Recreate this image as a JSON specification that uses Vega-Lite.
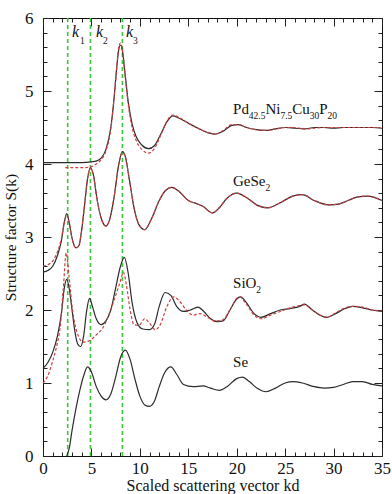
{
  "$schema": "https://vega.github.io/schema/vega-lite/v6.json",
  "width": 339,
  "height": 438,
  "autosize": "none",
  "padding": {"left": 43, "top": 18, "right": 10, "bottom": 38},
  "config": {
    "font": "Liberation Serif, Times New Roman, DejaVu Serif, serif",
    "text": {"font": "Liberation Serif, Times New Roman, DejaVu Serif, serif"},
    "axis": {"labelFont": "Liberation Serif, Times New Roman, DejaVu Serif, serif", "titleFont": "Liberation Serif, Times New Roman, DejaVu Serif, serif"},
    "view": {"stroke": "#111", "strokeWidth": 1}
  },
  "datasets": {
    "curves": [
      {"s":"Pd","t":"b","x":0,"y":4.02},{"s":"Pd","t":"b","x":1,"y":4.02},{"s":"Pd","t":"b","x":2,"y":4.02},{"s":"Pd","t":"b","x":3,"y":4.02},{"s":"Pd","t":"b","x":4,"y":4.02},{"s":"Pd","t":"b","x":5,"y":4.03},{"s":"Pd","t":"b","x":5.5,"y":4.04},{"s":"Pd","t":"b","x":6,"y":4.08},{"s":"Pd","t":"b","x":6.5,"y":4.2},{"s":"Pd","t":"b","x":7,"y":4.5},{"s":"Pd","t":"b","x":7.3,"y":4.85},{"s":"Pd","t":"b","x":7.6,"y":5.3},{"s":"Pd","t":"b","x":7.8,"y":5.55},{"s":"Pd","t":"b","x":8.0,"y":5.63},{"s":"Pd","t":"b","x":8.2,"y":5.55},{"s":"Pd","t":"b","x":8.5,"y":5.2},{"s":"Pd","t":"b","x":8.8,"y":4.85},{"s":"Pd","t":"b","x":9.2,"y":4.55},{"s":"Pd","t":"b","x":9.6,"y":4.38},{"s":"Pd","t":"b","x":10.2,"y":4.26},{"s":"Pd","t":"b","x":10.9,"y":4.21},{"s":"Pd","t":"b","x":11.5,"y":4.25},{"s":"Pd","t":"b","x":12.2,"y":4.42},{"s":"Pd","t":"b","x":12.8,"y":4.58},{"s":"Pd","t":"b","x":13.4,"y":4.66},{"s":"Pd","t":"b","x":14,"y":4.63},{"s":"Pd","t":"b","x":15,"y":4.56},{"s":"Pd","t":"b","x":16,"y":4.49},{"s":"Pd","t":"b","x":17,"y":4.43},{"s":"Pd","t":"b","x":17.8,"y":4.41},{"s":"Pd","t":"b","x":18.6,"y":4.45},{"s":"Pd","t":"b","x":19.5,"y":4.53},{"s":"Pd","t":"b","x":20.2,"y":4.54},{"s":"Pd","t":"b","x":21,"y":4.5},{"s":"Pd","t":"b","x":22,"y":4.47},{"s":"Pd","t":"b","x":23,"y":4.46},{"s":"Pd","t":"b","x":24,"y":4.48},{"s":"Pd","t":"b","x":25,"y":4.5},{"s":"Pd","t":"b","x":26,"y":4.49},{"s":"Pd","t":"b","x":27,"y":4.48},{"s":"Pd","t":"b","x":28,"y":4.5},{"s":"Pd","t":"b","x":29,"y":4.5},{"s":"Pd","t":"b","x":30,"y":4.49},{"s":"Pd","t":"b","x":31,"y":4.5},{"s":"Pd","t":"b","x":32,"y":4.5},{"s":"Pd","t":"b","x":33,"y":4.5},{"s":"Pd","t":"b","x":34,"y":4.5},{"s":"Pd","t":"b","x":35,"y":4.49},

      {"s":"Pd","t":"r","x":2.3,"y":3.95},{"s":"Pd","t":"r","x":3,"y":3.95},{"s":"Pd","t":"r","x":4,"y":3.95},{"s":"Pd","t":"r","x":4.9,"y":3.96},{"s":"Pd","t":"r","x":5.5,"y":4.0},{"s":"Pd","t":"r","x":6,"y":4.06},{"s":"Pd","t":"r","x":6.5,"y":4.18},{"s":"Pd","t":"r","x":7,"y":4.48},{"s":"Pd","t":"r","x":7.3,"y":4.85},{"s":"Pd","t":"r","x":7.6,"y":5.3},{"s":"Pd","t":"r","x":7.8,"y":5.58},{"s":"Pd","t":"r","x":8.0,"y":5.66},{"s":"Pd","t":"r","x":8.2,"y":5.56},{"s":"Pd","t":"r","x":8.5,"y":5.18},{"s":"Pd","t":"r","x":8.8,"y":4.82},{"s":"Pd","t":"r","x":9.2,"y":4.5},{"s":"Pd","t":"r","x":9.6,"y":4.33},{"s":"Pd","t":"r","x":10.2,"y":4.2},{"s":"Pd","t":"r","x":10.9,"y":4.15},{"s":"Pd","t":"r","x":11.5,"y":4.21},{"s":"Pd","t":"r","x":12.2,"y":4.41},{"s":"Pd","t":"r","x":12.8,"y":4.59},{"s":"Pd","t":"r","x":13.4,"y":4.67},{"s":"Pd","t":"r","x":14,"y":4.64},{"s":"Pd","t":"r","x":15,"y":4.56},{"s":"Pd","t":"r","x":16,"y":4.49},{"s":"Pd","t":"r","x":17,"y":4.43},{"s":"Pd","t":"r","x":17.8,"y":4.41},{"s":"Pd","t":"r","x":18.6,"y":4.46},{"s":"Pd","t":"r","x":19.5,"y":4.54},{"s":"Pd","t":"r","x":20.2,"y":4.54},{"s":"Pd","t":"r","x":21,"y":4.5},{"s":"Pd","t":"r","x":22,"y":4.47},{"s":"Pd","t":"r","x":23,"y":4.46},{"s":"Pd","t":"r","x":24,"y":4.48},{"s":"Pd","t":"r","x":25,"y":4.5},{"s":"Pd","t":"r","x":26,"y":4.5},{"s":"Pd","t":"r","x":27,"y":4.48},{"s":"Pd","t":"r","x":28,"y":4.49},{"s":"Pd","t":"r","x":29,"y":4.5},{"s":"Pd","t":"r","x":30,"y":4.5},{"s":"Pd","t":"r","x":31,"y":4.5},{"s":"Pd","t":"r","x":32,"y":4.5},{"s":"Pd","t":"r","x":33,"y":4.5},{"s":"Pd","t":"r","x":34,"y":4.5},{"s":"Pd","t":"r","x":35,"y":4.5},

      {"s":"Ge","t":"b","x":0,"y":2.52},{"s":"Ge","t":"b","x":0.5,"y":2.54},{"s":"Ge","t":"b","x":1,"y":2.6},{"s":"Ge","t":"b","x":1.5,"y":2.75},{"s":"Ge","t":"b","x":1.9,"y":2.95},{"s":"Ge","t":"b","x":2.2,"y":3.2},{"s":"Ge","t":"b","x":2.45,"y":3.32},{"s":"Ge","t":"b","x":2.7,"y":3.2},{"s":"Ge","t":"b","x":3.0,"y":2.98},{"s":"Ge","t":"b","x":3.4,"y":2.85},{"s":"Ge","t":"b","x":3.7,"y":2.88},{"s":"Ge","t":"b","x":4.0,"y":3.1},{"s":"Ge","t":"b","x":4.3,"y":3.45},{"s":"Ge","t":"b","x":4.6,"y":3.8},{"s":"Ge","t":"b","x":4.9,"y":3.95},{"s":"Ge","t":"b","x":5.2,"y":3.85},{"s":"Ge","t":"b","x":5.6,"y":3.5},{"s":"Ge","t":"b","x":6.0,"y":3.26},{"s":"Ge","t":"b","x":6.5,"y":3.15},{"s":"Ge","t":"b","x":7.0,"y":3.3},{"s":"Ge","t":"b","x":7.4,"y":3.6},{"s":"Ge","t":"b","x":7.8,"y":3.98},{"s":"Ge","t":"b","x":8.2,"y":4.17},{"s":"Ge","t":"b","x":8.5,"y":4.1},{"s":"Ge","t":"b","x":8.9,"y":3.8},{"s":"Ge","t":"b","x":9.4,"y":3.4},{"s":"Ge","t":"b","x":9.9,"y":3.17},{"s":"Ge","t":"b","x":10.5,"y":3.1},{"s":"Ge","t":"b","x":11.2,"y":3.25},{"s":"Ge","t":"b","x":12,"y":3.5},{"s":"Ge","t":"b","x":12.6,"y":3.63},{"s":"Ge","t":"b","x":13.3,"y":3.68},{"s":"Ge","t":"b","x":14,"y":3.63},{"s":"Ge","t":"b","x":15,"y":3.5},{"s":"Ge","t":"b","x":15.8,"y":3.46},{"s":"Ge","t":"b","x":16.5,"y":3.42},{"s":"Ge","t":"b","x":17.5,"y":3.33},{"s":"Ge","t":"b","x":18.2,"y":3.4},{"s":"Ge","t":"b","x":19,"y":3.53},{"s":"Ge","t":"b","x":20,"y":3.6},{"s":"Ge","t":"b","x":21,"y":3.54},{"s":"Ge","t":"b","x":22.2,"y":3.43},{"s":"Ge","t":"b","x":23.2,"y":3.4},{"s":"Ge","t":"b","x":24.5,"y":3.47},{"s":"Ge","t":"b","x":25.8,"y":3.56},{"s":"Ge","t":"b","x":26.8,"y":3.58},{"s":"Ge","t":"b","x":28,"y":3.5},{"s":"Ge","t":"b","x":29.5,"y":3.44},{"s":"Ge","t":"b","x":30.5,"y":3.45},{"s":"Ge","t":"b","x":31.5,"y":3.5},{"s":"Ge","t":"b","x":32.5,"y":3.55},{"s":"Ge","t":"b","x":33.5,"y":3.56},{"s":"Ge","t":"b","x":35,"y":3.5},

      {"s":"Ge","t":"r","x":0,"y":2.6},{"s":"Ge","t":"r","x":0.5,"y":2.62},{"s":"Ge","t":"r","x":1,"y":2.67},{"s":"Ge","t":"r","x":1.5,"y":2.8},{"s":"Ge","t":"r","x":1.9,"y":2.98},{"s":"Ge","t":"r","x":2.2,"y":3.2},{"s":"Ge","t":"r","x":2.45,"y":3.3},{"s":"Ge","t":"r","x":2.7,"y":3.2},{"s":"Ge","t":"r","x":3.0,"y":2.98},{"s":"Ge","t":"r","x":3.4,"y":2.85},{"s":"Ge","t":"r","x":3.7,"y":2.88},{"s":"Ge","t":"r","x":4.0,"y":3.1},{"s":"Ge","t":"r","x":4.3,"y":3.45},{"s":"Ge","t":"r","x":4.6,"y":3.8},{"s":"Ge","t":"r","x":4.9,"y":3.94},{"s":"Ge","t":"r","x":5.2,"y":3.85},{"s":"Ge","t":"r","x":5.6,"y":3.5},{"s":"Ge","t":"r","x":6.0,"y":3.26},{"s":"Ge","t":"r","x":6.5,"y":3.15},{"s":"Ge","t":"r","x":7.0,"y":3.3},{"s":"Ge","t":"r","x":7.4,"y":3.6},{"s":"Ge","t":"r","x":7.8,"y":3.98},{"s":"Ge","t":"r","x":8.2,"y":4.16},{"s":"Ge","t":"r","x":8.5,"y":4.1},{"s":"Ge","t":"r","x":8.9,"y":3.8},{"s":"Ge","t":"r","x":9.4,"y":3.4},{"s":"Ge","t":"r","x":9.9,"y":3.17},{"s":"Ge","t":"r","x":10.5,"y":3.1},{"s":"Ge","t":"r","x":11.2,"y":3.25},{"s":"Ge","t":"r","x":12,"y":3.5},{"s":"Ge","t":"r","x":12.6,"y":3.63},{"s":"Ge","t":"r","x":13.3,"y":3.68},{"s":"Ge","t":"r","x":14,"y":3.63},{"s":"Ge","t":"r","x":15,"y":3.5},{"s":"Ge","t":"r","x":15.8,"y":3.46},{"s":"Ge","t":"r","x":16.5,"y":3.42},{"s":"Ge","t":"r","x":17.5,"y":3.33},{"s":"Ge","t":"r","x":18.2,"y":3.4},{"s":"Ge","t":"r","x":19,"y":3.53},{"s":"Ge","t":"r","x":20,"y":3.6},{"s":"Ge","t":"r","x":21,"y":3.54},{"s":"Ge","t":"r","x":22.2,"y":3.43},{"s":"Ge","t":"r","x":23.2,"y":3.4},{"s":"Ge","t":"r","x":24.5,"y":3.47},{"s":"Ge","t":"r","x":25.8,"y":3.56},{"s":"Ge","t":"r","x":26.8,"y":3.58},{"s":"Ge","t":"r","x":28,"y":3.5},{"s":"Ge","t":"r","x":29.5,"y":3.44},{"s":"Ge","t":"r","x":30.5,"y":3.45},{"s":"Ge","t":"r","x":31.5,"y":3.5},{"s":"Ge","t":"r","x":32.5,"y":3.55},{"s":"Ge","t":"r","x":33.5,"y":3.56},{"s":"Ge","t":"r","x":35,"y":3.5},

      {"s":"Si","t":"b","x":0,"y":1.2},{"s":"Si","t":"b","x":0.5,"y":1.28},{"s":"Si","t":"b","x":1,"y":1.42},{"s":"Si","t":"b","x":1.5,"y":1.65},{"s":"Si","t":"b","x":1.9,"y":1.95},{"s":"Si","t":"b","x":2.2,"y":2.3},{"s":"Si","t":"b","x":2.45,"y":2.42},{"s":"Si","t":"b","x":2.7,"y":2.3},{"s":"Si","t":"b","x":3.0,"y":2.0},{"s":"Si","t":"b","x":3.3,"y":1.7},{"s":"Si","t":"b","x":3.6,"y":1.53},{"s":"Si","t":"b","x":3.9,"y":1.5},{"s":"Si","t":"b","x":4.2,"y":1.65},{"s":"Si","t":"b","x":4.5,"y":1.98},{"s":"Si","t":"b","x":4.8,"y":2.16},{"s":"Si","t":"b","x":5.1,"y":2.05},{"s":"Si","t":"b","x":5.5,"y":1.88},{"s":"Si","t":"b","x":6.0,"y":1.8},{"s":"Si","t":"b","x":6.5,"y":1.85},{"s":"Si","t":"b","x":7.0,"y":2.0},{"s":"Si","t":"b","x":7.5,"y":2.3},{"s":"Si","t":"b","x":8.0,"y":2.6},{"s":"Si","t":"b","x":8.4,"y":2.72},{"s":"Si","t":"b","x":8.8,"y":2.5},{"s":"Si","t":"b","x":9.2,"y":2.1},{"s":"Si","t":"b","x":9.7,"y":1.83},{"s":"Si","t":"b","x":10.3,"y":1.74},{"s":"Si","t":"b","x":11.0,"y":1.73},{"s":"Si","t":"b","x":11.5,"y":1.8},{"s":"Si","t":"b","x":12.0,"y":2.05},{"s":"Si","t":"b","x":12.6,"y":2.24},{"s":"Si","t":"b","x":13.2,"y":2.2},{"s":"Si","t":"b","x":13.8,"y":2.05},{"s":"Si","t":"b","x":14.5,"y":1.98},{"s":"Si","t":"b","x":15.2,"y":2.0},{"s":"Si","t":"b","x":16.0,"y":2.04},{"s":"Si","t":"b","x":16.6,"y":1.98},{"s":"Si","t":"b","x":17.3,"y":1.88},{"s":"Si","t":"b","x":18.0,"y":1.84},{"s":"Si","t":"b","x":18.6,"y":1.85},{"s":"Si","t":"b","x":19.3,"y":2.0},{"s":"Si","t":"b","x":20.0,"y":2.15},{"s":"Si","t":"b","x":20.4,"y":2.18},{"s":"Si","t":"b","x":21,"y":2.1},{"s":"Si","t":"b","x":21.8,"y":1.95},{"s":"Si","t":"b","x":22.5,"y":1.9},{"s":"Si","t":"b","x":23.5,"y":1.95},{"s":"Si","t":"b","x":24.5,"y":2.0},{"s":"Si","t":"b","x":25.5,"y":2.02},{"s":"Si","t":"b","x":26.5,"y":2.05},{"s":"Si","t":"b","x":27.0,"y":2.08},{"s":"Si","t":"b","x":27.8,"y":2.0},{"s":"Si","t":"b","x":28.6,"y":1.93},{"s":"Si","t":"b","x":29.3,"y":1.9},{"s":"Si","t":"b","x":30.2,"y":1.95},{"s":"Si","t":"b","x":31.2,"y":2.02},{"s":"Si","t":"b","x":32.0,"y":2.05},{"s":"Si","t":"b","x":33.0,"y":2.03},{"s":"Si","t":"b","x":34.0,"y":2.0},{"s":"Si","t":"b","x":35,"y":1.98},

      {"s":"Si","t":"r","x":0,"y":1.0},{"s":"Si","t":"r","x":0.5,"y":1.1},{"s":"Si","t":"r","x":1,"y":1.3},{"s":"Si","t":"r","x":1.4,"y":1.5},{"s":"Si","t":"r","x":1.8,"y":1.8},{"s":"Si","t":"r","x":2.1,"y":2.3},{"s":"Si","t":"r","x":2.4,"y":2.78},{"s":"Si","t":"r","x":2.7,"y":2.45},{"s":"Si","t":"r","x":3.0,"y":2.05},{"s":"Si","t":"r","x":3.3,"y":1.8},{"s":"Si","t":"r","x":3.7,"y":1.63},{"s":"Si","t":"r","x":4.1,"y":1.56},{"s":"Si","t":"r","x":4.8,"y":1.58},{"s":"Si","t":"r","x":5.5,"y":1.66},{"s":"Si","t":"r","x":6.2,"y":1.76},{"s":"Si","t":"r","x":6.9,"y":1.97},{"s":"Si","t":"r","x":7.5,"y":2.2},{"s":"Si","t":"r","x":8.0,"y":2.4},{"s":"Si","t":"r","x":8.3,"y":2.52},{"s":"Si","t":"r","x":8.6,"y":2.35},{"s":"Si","t":"r","x":9.0,"y":2.0},{"s":"Si","t":"r","x":9.4,"y":1.8},{"s":"Si","t":"r","x":9.9,"y":1.79},{"s":"Si","t":"r","x":10.5,"y":1.88},{"s":"Si","t":"r","x":11.0,"y":1.82},{"s":"Si","t":"r","x":11.6,"y":1.73},{"s":"Si","t":"r","x":12.1,"y":1.8},{"s":"Si","t":"r","x":12.8,"y":2.05},{"s":"Si","t":"r","x":13.5,"y":2.18},{"s":"Si","t":"r","x":14.1,"y":2.12},{"s":"Si","t":"r","x":14.8,"y":2.0},{"s":"Si","t":"r","x":15.5,"y":1.93},{"s":"Si","t":"r","x":16.2,"y":1.95},{"s":"Si","t":"r","x":17.0,"y":1.9},{"s":"Si","t":"r","x":17.7,"y":1.85},{"s":"Si","t":"r","x":18.5,"y":1.86},{"s":"Si","t":"r","x":19.3,"y":2.0},{"s":"Si","t":"r","x":20.0,"y":2.16},{"s":"Si","t":"r","x":20.3,"y":2.18},{"s":"Si","t":"r","x":21,"y":2.08},{"s":"Si","t":"r","x":21.8,"y":1.93},{"s":"Si","t":"r","x":22.5,"y":1.88},{"s":"Si","t":"r","x":23.5,"y":1.93},{"s":"Si","t":"r","x":24.5,"y":1.98},{"s":"Si","t":"r","x":25.5,"y":2.03},{"s":"Si","t":"r","x":26.5,"y":2.06},{"s":"Si","t":"r","x":27.0,"y":2.07},{"s":"Si","t":"r","x":27.8,"y":2.0},{"s":"Si","t":"r","x":28.6,"y":1.93},{"s":"Si","t":"r","x":29.3,"y":1.9},{"s":"Si","t":"r","x":30.2,"y":1.96},{"s":"Si","t":"r","x":31.2,"y":2.03},{"s":"Si","t":"r","x":32.0,"y":2.05},{"s":"Si","t":"r","x":33,"y":2.04},{"s":"Si","t":"r","x":34,"y":2.0},{"s":"Si","t":"r","x":35,"y":1.99},

      {"s":"Se","t":"b","x":2.45,"y":0.0},{"s":"Se","t":"b","x":2.7,"y":0.1},{"s":"Se","t":"b","x":3.0,"y":0.35},{"s":"Se","t":"b","x":3.4,"y":0.65},{"s":"Se","t":"b","x":3.8,"y":0.9},{"s":"Se","t":"b","x":4.2,"y":1.1},{"s":"Se","t":"b","x":4.6,"y":1.22},{"s":"Se","t":"b","x":5.0,"y":1.15},{"s":"Se","t":"b","x":5.5,"y":0.95},{"s":"Se","t":"b","x":6.0,"y":0.82},{"s":"Se","t":"b","x":6.5,"y":0.77},{"s":"Se","t":"b","x":7.0,"y":0.85},{"s":"Se","t":"b","x":7.5,"y":1.08},{"s":"Se","t":"b","x":8.0,"y":1.35},{"s":"Se","t":"b","x":8.5,"y":1.45},{"s":"Se","t":"b","x":9.0,"y":1.32},{"s":"Se","t":"b","x":9.5,"y":1.05},{"s":"Se","t":"b","x":10.0,"y":0.82},{"s":"Se","t":"b","x":10.5,"y":0.7},{"s":"Se","t":"b","x":11.0,"y":0.68},{"s":"Se","t":"b","x":11.5,"y":0.75},{"s":"Se","t":"b","x":12.0,"y":0.95},{"s":"Se","t":"b","x":12.6,"y":1.15},{"s":"Se","t":"b","x":13.2,"y":1.22},{"s":"Se","t":"b","x":13.8,"y":1.12},{"s":"Se","t":"b","x":14.5,"y":0.98},{"s":"Se","t":"b","x":15.5,"y":0.95},{"s":"Se","t":"b","x":16.5,"y":0.96},{"s":"Se","t":"b","x":17.3,"y":0.93},{"s":"Se","t":"b","x":18.2,"y":0.9},{"s":"Se","t":"b","x":19.0,"y":0.95},{"s":"Se","t":"b","x":20.0,"y":1.06},{"s":"Se","t":"b","x":20.6,"y":1.08},{"s":"Se","t":"b","x":21.3,"y":1.02},{"s":"Se","t":"b","x":22.2,"y":0.92},{"s":"Se","t":"b","x":23.0,"y":0.88},{"s":"Se","t":"b","x":24.0,"y":0.93},{"s":"Se","t":"b","x":25.0,"y":1.0},{"s":"Se","t":"b","x":25.8,"y":1.02},{"s":"Se","t":"b","x":26.8,"y":1.0},{"s":"Se","t":"b","x":28.0,"y":0.95},{"s":"Se","t":"b","x":29.0,"y":0.93},{"s":"Se","t":"b","x":30.0,"y":0.94},{"s":"Se","t":"b","x":31.0,"y":0.98},{"s":"Se","t":"b","x":32.0,"y":1.02},{"s":"Se","t":"b","x":33.0,"y":1.02},{"s":"Se","t":"b","x":34.0,"y":0.98},{"s":"Se","t":"b","x":35,"y":0.96}
    ],
    "klines": [{"k": 2.55}, {"k": 4.9}, {"k": 8.2}],
    "labels": [
      {"txt":"Pd","x":19.62,"y":4.685,"r":"main"},
      {"txt":"42.5","x":21.25,"y":4.615,"r":"sub"},
      {"txt":"Ni","x":22.96,"y":4.685,"r":"main"},
      {"txt":"7.5","x":24.51,"y":4.615,"r":"sub"},
      {"txt":"Cu","x":25.74,"y":4.685,"r":"main"},
      {"txt":"30","x":27.55,"y":4.615,"r":"sub"},
      {"txt":"P","x":28.53,"y":4.685,"r":"main"},
      {"txt":"20","x":29.38,"y":4.615,"r":"sub"},
      {"txt":"GeSe","x":19.62,"y":3.70,"r":"main"},
      {"txt":"2","x":22.97,"y":3.63,"r":"sub"},
      {"txt":"SiO","x":19.62,"y":2.30,"r":"main"},
      {"txt":"2","x":22.02,"y":2.23,"r":"sub"},
      {"txt":"Se","x":19.62,"y":1.22,"r":"main"},
      {"txt":"k","x":2.99,"y":5.74,"r":"ital"},
      {"txt":"1","x":3.82,"y":5.64,"r":"sub"},
      {"txt":"k","x":5.47,"y":5.74,"r":"ital"},
      {"txt":"2","x":6.19,"y":5.64,"r":"sub"},
      {"txt":"k","x":8.57,"y":5.74,"r":"ital"},
      {"txt":"3","x":9.29,"y":5.64,"r":"sub"}
    ],
    "ax": [{"x": 0, "y": 0}]
  },
  "resolve": {"axis": {"x": "independent", "y": "independent"}},
  "layer": [
    {
      "data": {"name": "klines"},
      "mark": {"type": "rule", "color": "#3cc43c", "strokeWidth": 1.6, "strokeDash": [4, 3]},
      "encoding": {
        "x": {"field": "k", "type": "quantitative", "scale": {"domain": [0, 35], "nice": false, "zero": false}, "axis": null},
        "y": {"datum": 0, "type": "quantitative", "scale": {"domain": [0, 6], "nice": false}, "axis": null},
        "y2": {"datum": 6}
      }
    },
    {
      "data": {"name": "curves"},
      "transform": [{"filter": "datum.t === 'b'"}],
      "mark": {"type": "line", "interpolate": "monotone", "color": "#2b2b2b", "strokeWidth": 1.2},
      "encoding": {
        "x": {"field": "x", "type": "quantitative", "axis": null},
        "y": {"field": "y", "type": "quantitative", "axis": null},
        "detail": {"field": "s"}
      }
    },
    {
      "data": {"name": "curves"},
      "transform": [{"filter": "datum.t === 'r'"}],
      "mark": {"type": "line", "interpolate": "monotone", "color": "#cf3f3f", "strokeWidth": 1.2, "strokeDash": [3, 2]},
      "encoding": {
        "x": {"field": "x", "type": "quantitative", "axis": null},
        "y": {"field": "y", "type": "quantitative", "axis": null},
        "detail": {"field": "s"}
      }
    },
    {
      "data": {"name": "labels"},
      "transform": [{"filter": "datum.r === 'main'"}],
      "mark": {"type": "text", "align": "left", "baseline": "alphabetic", "fontSize": 15, "color": "#111", "font": "Liberation Serif, Times New Roman, DejaVu Serif, serif"},
      "encoding": {
        "x": {"field": "x", "type": "quantitative", "axis": null},
        "y": {"field": "y", "type": "quantitative", "axis": null},
        "text": {"field": "txt"}
      }
    },
    {
      "data": {"name": "labels"},
      "transform": [{"filter": "datum.r === 'ital'"}],
      "mark": {"type": "text", "align": "left", "baseline": "alphabetic", "fontSize": 16, "fontStyle": "italic", "color": "#111", "font": "Liberation Serif, Times New Roman, DejaVu Serif, serif"},
      "encoding": {
        "x": {"field": "x", "type": "quantitative", "axis": null},
        "y": {"field": "y", "type": "quantitative", "axis": null},
        "text": {"field": "txt"}
      }
    },
    {
      "data": {"name": "labels"},
      "transform": [{"filter": "datum.r === 'sub'"}],
      "mark": {"type": "text", "align": "left", "baseline": "alphabetic", "fontSize": 9.5, "color": "#111", "font": "Liberation Serif, Times New Roman, DejaVu Serif, serif"},
      "encoding": {
        "x": {"field": "x", "type": "quantitative", "axis": null},
        "y": {"field": "y", "type": "quantitative", "axis": null},
        "text": {"field": "txt"}
      }
    },
    {
      "data": {"name": "ax"},
      "mark": {"type": "point", "opacity": 0},
      "encoding": {
        "x": {"field": "x", "type": "quantitative", "axis": {"orient": "bottom", "values": [0,5,10,15,20,25,30,35], "tickSize": -8, "tickColor": "#222", "domain": false, "grid": false, "labelFontSize": 17, "labelColor": "#111", "labelPadding": 12, "labelFlush": false, "labelOverlap": false, "title": "Scaled scattering vector kd", "titleFontSize": 16, "titleFontWeight": "normal", "titleColor": "#111", "titleBaseline": "alphabetic", "titleY": 34}},
        "y": {"field": "y", "type": "quantitative", "axis": {"orient": "left", "values": [0,1,2,3,4,5,6], "tickSize": -8, "tickColor": "#222", "domain": false, "grid": false, "labelFontSize": 17, "labelColor": "#111", "labelPadding": 18, "labelFlush": false, "labelOverlap": false, "title": "Structure factor S(k)", "titleFontSize": 15.5, "titleFontWeight": "normal", "titleColor": "#111", "titlePadding": 6}}
      }
    },
    {
      "data": {"name": "ax"},
      "mark": {"type": "point", "opacity": 0},
      "encoding": {
        "x": {"field": "x", "type": "quantitative", "axis": {"orient": "bottom", "values": [0,1,2,3,4,5,6,7,8,9,10,11,12,13,14,15,16,17,18,19,20,21,22,23,24,25,26,27,28,29,30,31,32,33,34,35], "tickSize": -4, "tickColor": "#222", "domain": false, "grid": false, "labels": false, "title": null}},
        "y": {"field": "y", "type": "quantitative", "axis": {"orient": "left", "values": [0,0.2,0.4,0.6,0.8,1,1.2,1.4,1.6,1.8,2,2.2,2.4,2.6,2.8,3,3.2,3.4,3.6,3.8,4,4.2,4.4,4.6,4.8,5,5.2,5.4,5.6,5.8,6], "tickSize": -4, "tickColor": "#222", "domain": false, "grid": false, "labels": false, "title": null}}
      }
    },
    {
      "data": {"name": "ax"},
      "mark": {"type": "point", "opacity": 0},
      "encoding": {
        "x": {"field": "x", "type": "quantitative", "axis": {"orient": "top", "values": [0,5,10,15,20,25,30,35], "tickSize": -8, "tickColor": "#222", "domain": false, "grid": false, "labels": false, "title": null}},
        "y": {"field": "y", "type": "quantitative", "axis": {"orient": "right", "values": [0,1,2,3,4,5,6], "tickSize": -8, "tickColor": "#222", "domain": false, "grid": false, "labels": false, "title": null}}
      }
    },
    {
      "data": {"name": "ax"},
      "mark": {"type": "point", "opacity": 0},
      "encoding": {
        "x": {"field": "x", "type": "quantitative", "axis": {"orient": "top", "values": [0,1,2,3,4,5,6,7,8,9,10,11,12,13,14,15,16,17,18,19,20,21,22,23,24,25,26,27,28,29,30,31,32,33,34,35], "tickSize": -4, "tickColor": "#222", "domain": false, "grid": false, "labels": false, "title": null}},
        "y": {"field": "y", "type": "quantitative", "axis": {"orient": "right", "values": [0,0.2,0.4,0.6,0.8,1,1.2,1.4,1.6,1.8,2,2.2,2.4,2.6,2.8,3,3.2,3.4,3.6,3.8,4,4.2,4.4,4.6,4.8,5,5.2,5.4,5.6,5.8,6], "tickSize": -4, "tickColor": "#222", "domain": false, "grid": false, "labels": false, "title": null}}
      }
    }
  ]
}
